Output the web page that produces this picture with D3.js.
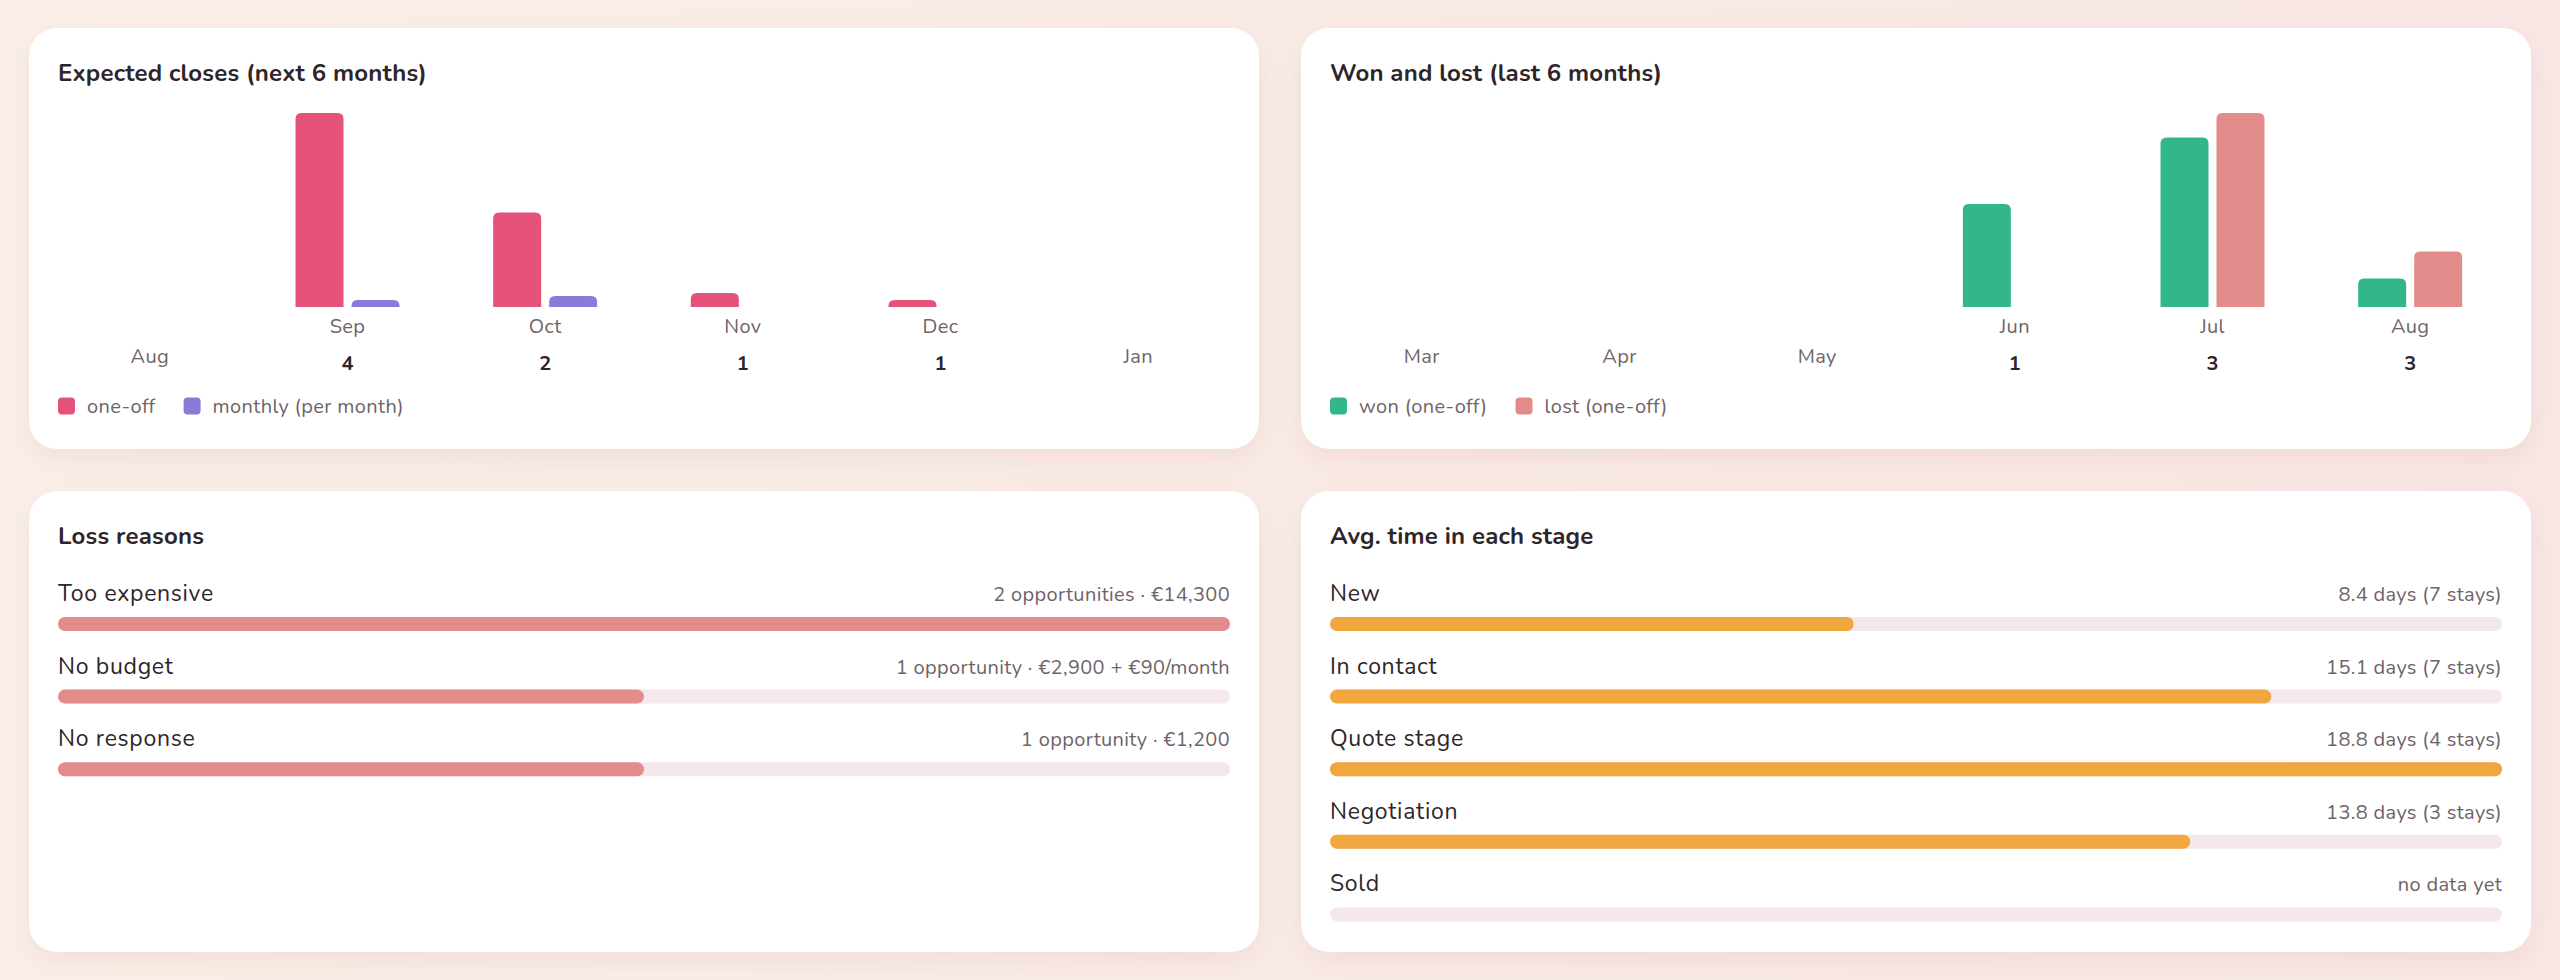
<!DOCTYPE html>
<html>
<head>
<meta charset="utf-8">
<script src="https://cdn.jsdelivr.net/npm/d3@7"></script>
<style>
  html, body { margin: 0; padding: 0; }
  body { width: 2560px; height: 980px; overflow: hidden;
         background: linear-gradient(90deg, #f9efe8 0%, #f9ebe6 50%, #f8e7e5 100%); }
  svg { display: block; font-family: "Nunito", "Lato", sans-serif; }
</style>
</head>
<body>
<div id="canvas"></div>
<script>
"use strict"

/***********************************
 DATA
************************************/
// Expected closes (next 6 months)
let closeMonths = ["Aug", "Sep", "Oct", "Nov", "Dec", "Jan"];
let closeOneOff = [0, 15800, 7700, 1150, 560, 0];
let closeMonthly = [0, 560, 900, 0, 0, 0];
let closeCounts = [0, 4, 2, 1, 1, 0];

// Won and lost (last 6 months)
let wlMonths = ["Mar", "Apr", "May", "Jun", "Jul", "Aug"];
let wonValues = [0, 0, 0, 7600, 12500, 2100];
let lostValues = [0, 0, 0, 0, 14300, 4100];
let wlCounts = [0, 0, 0, 1, 3, 3];

// Loss reasons
let lossReasons = ["Too expensive", "No budget", "No response"];
let lossOpps = [2, 1, 1];
let lossDetails = ["2 opportunities · €14,300", "1 opportunity · €2,900 + €90/month", "1 opportunity · €1,200"];

// Avg. time in each stage
let stages = ["New", "In contact", "Quote stage", "Negotiation", "Sold"];
let stageDays = [8.4, 15.1, 18.8, 13.8, null];
let stageStays = [7, 7, 4, 3, 0];

/***********************************
 CONFIG
************************************/
let W = 2560, H = 980;
let cardW = 1230, pad = 29;
let dark = "#2d2529", grey = "#6f6367", track = "#f4e7ed";
let cPink = "#e5527a", cPurple = "#8b7bd8", cGreen = "#33b68a", cLost = "#e38c8c", cOrange = "#f0a73d";
let smallSize = 20, smallSpacing = 0.35; // month labels, legend, details

let svg = d3.select("#canvas").append("svg")
    .attr("width", W).attr("height", H);

let defs = svg.append("defs");
let f = defs.append("filter").attr("id", "shadow")
    .attr("x", "-10%").attr("y", "-10%").attr("width", "120%").attr("height", "130%");
f.append("feDropShadow").attr("dx", 0).attr("dy", 10).attr("stdDeviation", 14)
    .attr("flood-color", "#c98f80").attr("flood-opacity", 0.16);

// top-rounded bar path
function topRounded(x, y, w, h, r) {
    r = Math.min(r, h, w / 2);
    return `M${x},${y + h}V${y + r}Q${x},${y} ${x + r},${y}H${x + w - r}Q${x + w},${y} ${x + w},${y + r}V${y + h}Z`;
}

function smallText(g, x, y, txt) {
    return g.append("text").attr("x", x).attr("y", y).attr("dy", "0.35em")
        .attr("font-size", smallSize).attr("letter-spacing", smallSpacing)
        .attr("fill", grey).text(txt);
}

function card(x, y, h, title) {
    let g = svg.append("g").attr("transform", `translate(${x},${y})`);
    g.append("rect").attr("width", cardW).attr("height", h).attr("rx", 28)
        .attr("fill", "#fff").attr("filter", "url(#shadow)");
    g.append("text").attr("x", pad).attr("y", 45).attr("dy", "0.35em")
        .attr("font-size", 24).attr("letter-spacing", 0.2)
        .attr("font-weight", 700).attr("fill", dark).text(title);
    return g;
}

/***********************************
 GROUPED BAR CARD
************************************/
function barCard(x, title, months, serA, serB, counts, colA, colB, legend) {
    let g = card(x, 28, 421, title);
    let xScale = d3.scaleBand().domain(months).range([22, cardW - 22]);
    let sub = d3.scaleBand().domain([0, 1]).range([0, 104]).paddingInner(8 / 56);
    let yMax = d3.max(serA.concat(serB));
    let yScale = d3.scaleLinear().domain([0, yMax]).range([279, 85]);

    months.forEach((m, i) => {
        let cx = xScale(m) + xScale.bandwidth() / 2;
        [serA[i], serB[i]].forEach((v, k) => {
            if (!v) return;
            let y0 = yScale(v);
            g.append("path")
                .attr("d", topRounded(cx - 52 + sub(k), y0, sub.bandwidth(), yScale(0) - y0, 6))
                .attr("fill", k === 0 ? colA : colB);
        });
        if (counts[i] > 0) {
            smallText(g, cx, 298, m).attr("text-anchor", "middle");
            g.append("text").attr("x", cx).attr("y", 335).attr("dy", "0.35em")
                .attr("text-anchor", "middle").attr("font-size", 20).attr("font-weight", 700)
                .attr("fill", dark).text(counts[i]);
        } else {
            smallText(g, cx, 328, m).attr("text-anchor", "middle");
        }
    });

    // legend
    let lx = pad;
    legend.forEach((name, k) => {
        g.append("rect").attr("x", lx).attr("y", 369.5).attr("width", 17).attr("height", 17)
            .attr("rx", 4).attr("fill", k === 0 ? colA : colB);
        let t = smallText(g, lx + 29, 378, name);
        lx += 29 + t.node().getComputedTextLength() + 28;
    });
}

barCard(29, "Expected closes (next 6 months)", closeMonths, closeOneOff, closeMonthly, closeCounts,
    cPink, cPurple, ["one-off", "monthly (per month)"]);
barCard(1301, "Won and lost (last 6 months)", wlMonths, wonValues, lostValues, wlCounts,
    cGreen, cLost, ["won (one-off)", "lost (one-off)"]);

/***********************************
 PROGRESS ROW CARD
************************************/
function rowCard(x, title, labels, values, details, color) {
    let g = card(x, 491, 461, title);
    let xScale = d3.scaleLinear().domain([0, d3.max(values)]).range([0, cardW - pad * 2]);
    let yScale = d3.scaleBand().domain(labels).range([66, 66 + labels.length * 72.6]);

    labels.forEach((lab, i) => {
        let y = yScale(lab);
        g.append("text").attr("x", pad).attr("y", y + 36).attr("dy", "0.35em")
            .attr("font-size", 23).attr("letter-spacing", 0.7).attr("fill", dark).text(lab);
        smallText(g, cardW - pad, y + 37, details[i]).attr("text-anchor", "end");
        g.append("rect").attr("x", pad).attr("y", y + 60).attr("width", cardW - pad * 2)
            .attr("height", 14).attr("rx", 7).attr("fill", track);
        if (values[i]) {
            g.append("rect").attr("x", pad).attr("y", y + 60).attr("width", xScale(values[i]))
                .attr("height", 14).attr("rx", 7).attr("fill", color);
        }
    });
}

rowCard(29, "Loss reasons", lossReasons, lossOpps, lossDetails, cLost);
rowCard(1301, "Avg. time in each stage", stages, stageDays,
    stageDays.map((d, i) => d == null ? "no data yet" : `${d} days (${stageStays[i]} stays)`), cOrange);
</script>
</body>
</html>
